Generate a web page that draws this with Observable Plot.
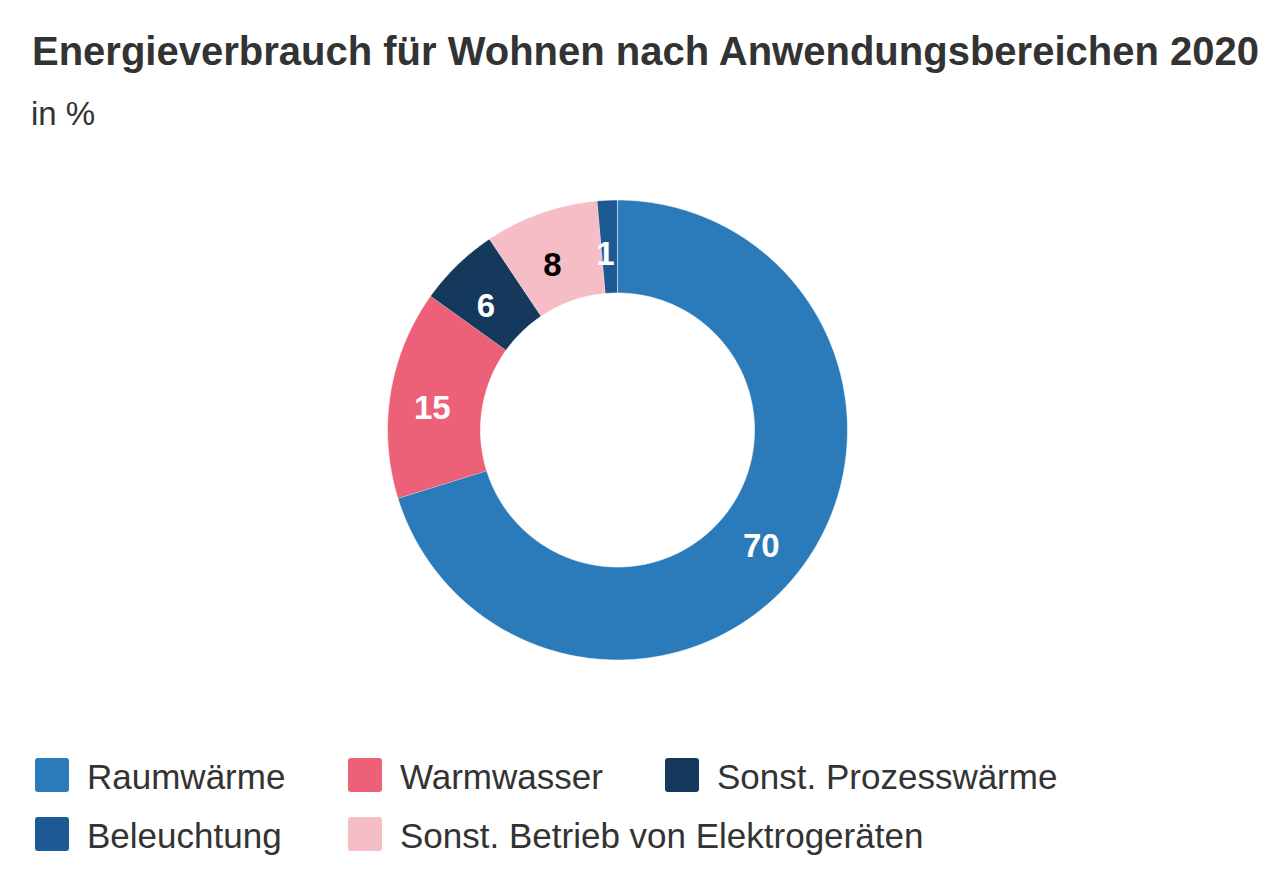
<!DOCTYPE html>
<html>
<head>
<meta charset="utf-8">
<script src="https://cdn.jsdelivr.net/npm/d3@7"></script>
<script src="https://cdn.jsdelivr.net/npm/@observablehq/plot@0.6"></script>
<style>
  html, body { margin: 0; padding: 0; background: #fff; }
  body { width: 1284px; height: 885px; position: relative; overflow: hidden;
         font-family: "Liberation Sans", Arial, Helvetica, sans-serif; color: #333; }
  .abs { position: absolute; white-space: nowrap; line-height: 1; }
  #title { left: 32px; top: 31px; font-size: 40px; font-weight: bold; color: #333; }
  #subtitle { left: 31px; top: 97px; font-size: 33px; color: #333; }
  #chart { position: absolute; left: 0; top: 140px; }
  .item { position: absolute; display: flex; align-items: center; height: 34px; }
  .sw { width: 34px; height: 34px; border-radius: 3px; margin-right: 18px; flex: none; }
  .lt { font-size: 35px; line-height: 1; color: #333; position: relative; top: 1px; }
</style>
</head>
<body>
<div id="title" class="abs">Energieverbrauch für Wohnen nach Anwendungsbereichen 2020</div>
<div id="subtitle" class="abs">in %</div>
<div id="chart"></div>
<div id="legend"></div>
<script>
// Slices in clockwise order starting at 12 o'clock
const categories = ["Raumwärme", "Warmwasser", "Sonst. Prozesswärme", "Sonst. Betrieb von Elektrogeräten", "Beleuchtung"];
const values = [70.2, 14.7, 5.7, 8.0, 1.4];
const labels = ["70", "15", "6", "8", "1"];
const colors = ["#2b7bba", "#ec6177", "#15395c", "#f5bdc6", "#1d5a93"];
const legendOrder = ["Raumwärme", "Warmwasser", "Sonst. Prozesswärme", "Beleuchtung", "Sonst. Betrieb von Elektrogeräten"];
const darkLabels = ["Sonst. Betrieb von Elektrogeräten"];

const innerRatio = 137 / 230;
const midRatio = (1 + innerRatio) / 2;

const rows = categories.map((c, i) => ({cat: c, value: values[i], label: labels[i]}));
const arcs = d3.pie().sort(null).value(d => d.value)(rows);

// polygon outline points for each slice (outer arc, then inner arc back)
const pts = [];
const step = Math.PI / 360;
arcs.forEach(a => {
  const n = Math.max(2, Math.ceil((a.endAngle - a.startAngle) / step) + 1);
  for (let k = 0; k < n; k++) {
    const t = a.startAngle + (a.endAngle - a.startAngle) * k / (n - 1);
    pts.push({cat: a.data.cat, x: Math.sin(t), y: Math.cos(t)});
  }
  for (let k = n - 1; k >= 0; k--) {
    const t = a.startAngle + (a.endAngle - a.startAngle) * k / (n - 1);
    pts.push({cat: a.data.cat, x: innerRatio * Math.sin(t), y: innerRatio * Math.cos(t)});
  }
});

const labelData = arcs.map(a => {
  const m = (a.startAngle + a.endAngle) / 2;
  return {cat: a.data.cat, label: a.data.label, x: midRatio * Math.sin(m), y: midRatio * Math.cos(m)};
});

const cx = 617, cy = 429.5 - 140, R = 230;
const textOpts = {x: "x", y: "y", text: "label", fontSize: 33, fontWeight: "bold", dx: -4, dy: 8,
                  fontFamily: "Liberation Sans, Arial, sans-serif"};

const plot = Plot.plot({
  width: 1284,
  height: 560,
  x: {domain: [-1, 1], range: [cx - R, cx + R], axis: null},
  y: {domain: [-1, 1], range: [cy + R, cy - R], axis: null},
  color: {domain: categories, range: colors},
  style: {background: "transparent", fontFamily: "Liberation Sans, Arial, sans-serif"},
  marks: [
    Plot.line(pts, {x: "x", y: "y", z: "cat", fill: "cat", stroke: "white", strokeWidth: 0.6, curve: "linear"}),
    Plot.text(labelData.filter(d => !darkLabels.includes(d.cat)), {...textOpts, fill: "white"}),
    Plot.text(labelData.filter(d => darkLabels.includes(d.cat)), {...textOpts, fill: "black"})
  ]
});
document.getElementById("chart").appendChild(plot);

// legend
const legend = document.getElementById("legend");
const colX = [35, 348, 665];
const rowY = [758, 817];
legendOrder.forEach((c, i) => {
  const item = document.createElement("div");
  item.className = "item";
  item.style.left = colX[i % 3] + "px";
  item.style.top = rowY[Math.floor(i / 3)] + "px";
  const sw = document.createElement("div");
  sw.className = "sw";
  sw.style.background = colors[categories.indexOf(c)];
  const t = document.createElement("span");
  t.className = "lt";
  t.textContent = c;
  item.appendChild(sw);
  item.appendChild(t);
  legend.appendChild(item);
});
</script>
</body>
</html>
